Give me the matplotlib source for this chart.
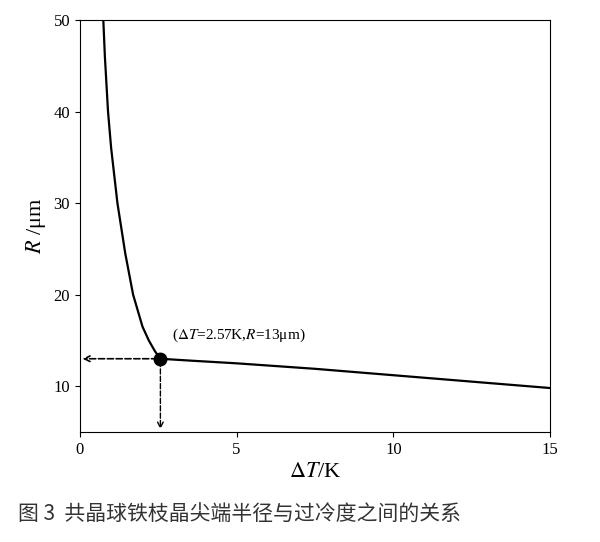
import matplotlib.pyplot as plt

plt.rcParams['font.family'] = ['Liberation Serif', 'Noto Sans CJK SC', 'DejaVu Sans']
plt.rcParams['mathtext.fontset'] = 'stix'

dT = [0.75, 0.8, 0.9, 1.0, 1.2, 1.45, 1.7, 2.0, 2.2, 2.4, 2.57, 3.5, 5, 7.5, 10, 12.5, 15]
R = [50, 46, 40, 36, 30, 24.5, 20, 16.5, 15, 13.8, 13, 12.8, 12.5, 11.9, 11.2, 10.5, 9.8]
point_x, point_y = 2.57, 13

fig = plt.figure(figsize=(6, 5.42), dpi=100)
ax = fig.add_axes([0.133, 0.203, 0.784, 0.76])
ax.plot(dT, R, color='black', lw=1.6)
ax.plot([point_x], [point_y], 'o', color='black', ms=9)
ax.annotate('', xy=(0, point_y), xytext=(point_x, point_y),
            arrowprops=dict(arrowstyle='->', linestyle='--', color='black', lw=1.2))
ax.annotate('', xy=(point_x, 5), xytext=(point_x, point_y),
            arrowprops=dict(arrowstyle='->', linestyle='--', color='black', lw=1.0))
ax.text(2.95, 15.2, r'($\Delta T$=2.57K,$R$=13μm)', fontsize=11)
ax.set_xlim(0, 15)
ax.set_ylim(5, 50)
ax.set_xticks([0, 5, 10, 15])
ax.set_yticks([10, 20, 30, 40, 50])
ax.tick_params(labelsize=12, direction='out')
ax.set_xlabel(r'$\Delta T$/K', fontsize=16)
ax.set_ylabel(r'$R$ /μm', fontsize=16)
fig.text(0.03, 0.04, '图 3  共晶球铁枝晶尖端半径与过冷度之间的关系', fontsize=15,
         family=['Noto Sans CJK SC', 'DejaVu Sans'], color='#333333')
fig.savefig('out.png')
